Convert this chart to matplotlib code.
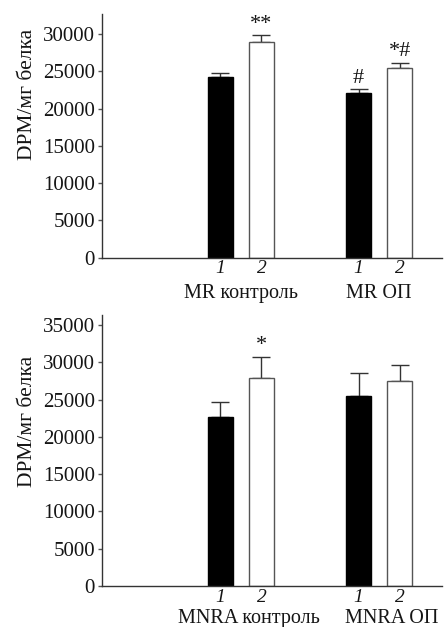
import matplotlib
matplotlib.use("Agg")
import matplotlib.pyplot as plt
import numpy as np

plt.rcParams['font.family'] = ['Liberation Serif', 'DejaVu Serif']

# data
bar_num = ['1', '2', '1', '2']
top_groups = ['MR контроль', 'MR ОП']
bot_groups = ['MNRA контроль', 'MNRA ОП']
top_vals = [24200, 28950, 22050, 25400]
top_err = [600, 900, 520, 760]
top_marks = ['', '**', '#', '*#']
bot_vals = [22700, 27950, 25500, 27550]
bot_err = [2000, 2800, 3000, 2050]
bot_marks = ['', '*', '', '']
ylabel = 'DPM/мг белка'

pos = np.array([0, 1, 3.37, 4.37])
fills = ['black', 'white', 'black', 'white']
edges = ['black', '#555555', 'black', '#555555']
txt = '#151515'

fig = plt.figure(figsize=(4.46, 6.27), dpi=100)
ax1 = fig.add_axes([0.2287, 0.589, 0.762, 0.3887])
ax2 = fig.add_axes([0.2287, 0.0654, 0.762, 0.4322])

def draw(ax, vals, err, marks, groups, ytop, yticks, grp_dx, lab_y, grp_y):
    ax.bar(pos, vals, width=0.61, color=fills, edgecolor=edges, linewidth=1.0, zorder=2)
    ax.errorbar(pos, vals, yerr=[np.zeros(len(err)), err], fmt='none',
                ecolor='#333333', elinewidth=1.0, capsize=6.5, capthick=1.0, zorder=1)
    for x, v, e, m in zip(pos, vals, err, marks):
        if m:
            ax.annotate(m, (x, v + e), xytext=(0, 1), textcoords='offset points',
                        ha='center', va='bottom', fontsize=16, color=txt)
    ax.set_xlim(-2.89, 5.4)
    ax.set_ylim(0, ytop)
    ax.set_yticks(yticks)
    ax.set_yticklabels([str(t) for t in yticks])
    ax.set_xticks(pos)
    ax.set_xticklabels(bar_num, fontstyle='italic')
    ax.tick_params(axis='x', length=0, pad=2, labelsize=14, colors=txt)
    ax.tick_params(axis='y', length=3, width=1, color='#555555', pad=2,
                   labelsize=15, labelcolor=txt)
    for s in ['top', 'right']:
        ax.spines[s].set_visible(False)
    for s in ['left', 'bottom']:
        ax.spines[s].set_color('#333333')
        ax.spines[s].set_linewidth(1.0)
    for i, g in enumerate(groups):
        xc = (pos[2 * i] + pos[2 * i + 1]) / 2 + grp_dx[i]
        ax.text(xc, grp_y, g, transform=ax.get_xaxis_transform(), ha='center',
                va='baseline', fontsize=14.5, color=txt, clip_on=False)
    ax.set_ylabel(ylabel, fontsize=15.5, color=txt)
    ax.yaxis.set_label_coords(-0.19, lab_y)

draw(ax1, top_vals, top_err, top_marks, top_groups, 32680,
     [0, 5000, 10000, 15000, 20000, 25000, 30000], [0, 0], 0.668, -0.164)
draw(ax2, bot_vals, bot_err, bot_marks, bot_groups, 36340,
     [0, 5000, 10000, 15000, 20000, 25000, 30000, 35000], [0.2, 0.3], 0.609, -0.137)

fig.savefig('out.png', dpi=100)
